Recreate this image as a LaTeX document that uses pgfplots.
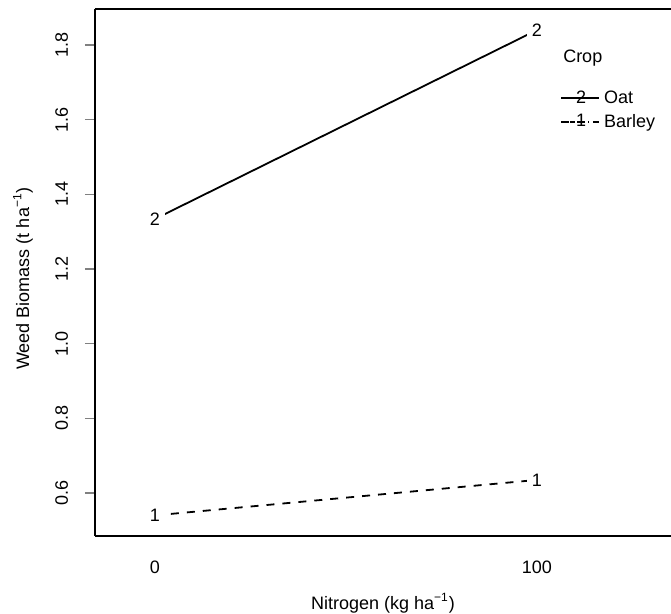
\documentclass[border=0pt]{standalone}
\usepackage{fontspec}
\setmainfont{Liberation Sans}
\usepackage{pgfplots}
\pgfplotsset{compat=1.18}
\newcommand{\fs}{\fontsize{9}{11}\selectfont}
\begin{document}
\begin{tikzpicture}[font=\fs]
\begin{axis}[
  scale only axis, width=288pt, height=263.5pt,
  xmin=-15.7, xmax=135.1, ymin=0.4848, ymax=1.8965,
  axis x line*=box, axis y line*=left,
  axis line style={line width=0.8pt},
  xtick={0,100}, xtick style={draw=none},
  ytick={0.6,0.8,1.0,1.2,1.4,1.6,1.8},
  ytick align=outside, major tick length=5pt,
  ytick style={line width=0.8pt},
  /pgf/number format/assume math mode=true,
  y tick label style={/pgf/number format/fixed, /pgf/number format/fixed zerofill, /pgf/number format/precision=1, xshift=-5pt, rotate=90, anchor=south},
  x tick label style={yshift=-8.75pt},
  every axis x label/.style={at={(axis description cs:0.5,0)}, anchor=center, yshift=-33.5pt},
  every axis y label/.style={at={(axis description cs:0,0.5)}, xshift=-36pt, yshift=-3pt, rotate=90, anchor=center},
  xlabel={Nitrogen (kg ha\textsuperscript{−1})},
  ylabel={Weed Biomass (t ha\textsuperscript{−1})},
  legend style={at={(axis cs:106,1.69)}, anchor=north west, draw=none, fill=none, inner sep=0pt, row sep=0pt,
    nodes={inner sep=2pt}},
  legend cell align=left,
  clip=false,
  every node near coord/.append style={anchor=center, fill=white, text=black, inner sep=2.5pt},
]
\addplot[black, line width=0.9pt, mark=none, nodes near coords={2},
  legend image code/.code={\draw[black, line width=0.9pt] (0pt,0pt)--(14pt,0pt); \node[inner sep=0pt] at (7pt,0pt) {2}; \path (0pt,0pt)--(19pt,0pt);}]
  coordinates {(0,1.334) (100,1.840)};
\addlegendentry{Oat}
\addplot[black, line width=0.9pt, dash pattern=on 4pt off 4pt, mark=none, nodes near coords={1},
  legend image code/.code={\draw[black, line width=0.9pt, dash pattern=on 2.5pt off 2pt] (0pt,0pt)--(14pt,0pt); \node[inner sep=0pt] at (7pt,0pt) {1}; \path (0pt,0pt)--(19pt,0pt);}]
  coordinates {(0,0.540) (100,0.635)};
\addlegendentry{Barley}
\node at (axis cs:112,1.765) {Crop};
\end{axis}
\pgfresetboundingbox
\path ([xshift=-47.5pt,yshift=-39pt]current axis.south west) rectangle ([yshift=4.5pt]current axis.north east);
\end{tikzpicture}
\end{document}
